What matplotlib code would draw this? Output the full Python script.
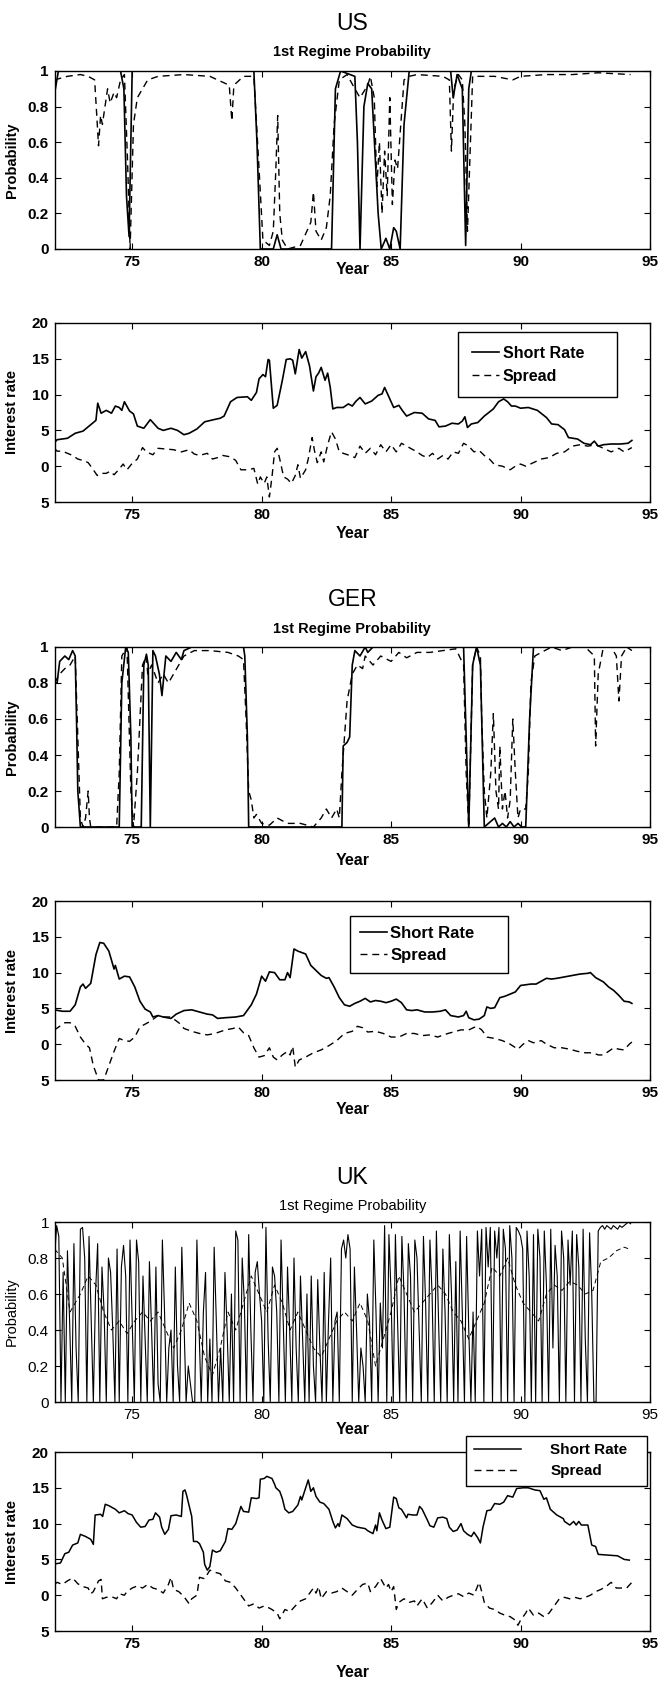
import matplotlib
matplotlib.use('Agg')
import matplotlib.pyplot as plt
import numpy as np

plt.rcParams['font.family'] = ['Liberation Sans', 'DejaVu Sans']

# ---------------- US ----------------
us_prob_solid_t = [72.0, 72.15, 72.3, 74.55, 74.68, 74.78, 74.88, 75.0, 79.7, 79.82, 79.95, 80.45, 80.6, 80.75,
                   82.7, 82.85, 83.05, 83.6, 83.7, 83.8, 83.95, 84.1, 84.25, 84.5, 84.62, 84.8, 84.95, 85.1,
                   85.2, 85.35, 85.5, 85.7, 87.3, 87.4, 87.55, 87.75, 87.88, 88.0, 88.1, 94.25]
us_prob_solid = [0.87, 1.0, 1.0, 1.0, 0.9, 0.3, 0.07, 1.0, 1.0, 0.6, 0.0, 0.0, 0.08, 0.0,
                 0.0, 0.9, 1.0, 0.97, 0.6, 0.0, 0.8, 0.93, 0.9, 0.2, 0.0, 0.06, 0.0, 0.12,
                 0.1, 0.0, 0.7, 1.0, 1.0, 0.85, 0.98, 0.9, 0.02, 0.9, 1.0, 1.0]
us_prob_dash_t = [72.0, 72.5, 73.0, 73.3, 73.55, 73.62, 73.7, 73.78, 73.85, 73.95, 74.05, 74.15, 74.3, 74.4,
                  74.55, 74.7, 74.82, 74.92, 75.05, 75.2, 75.4, 75.6, 76.0, 77.0, 78.0, 78.75, 78.85, 78.92,
                  79.0, 79.3, 79.7, 79.9, 80.05, 80.3, 80.45, 80.55, 80.62, 80.7, 80.8, 81.0, 81.5, 81.9,
                  82.0, 82.1, 82.3, 82.5, 82.65, 82.8, 83.0, 83.3, 83.6, 83.8, 84.1, 84.2, 84.35, 84.45,
                  84.55, 84.65, 84.75, 84.85, 84.95, 85.05, 85.15, 85.25, 85.5, 85.7, 86.0, 87.0, 87.25,
                  87.33, 87.42, 87.6, 87.75, 87.85, 87.95, 88.15, 89.0, 89.7, 90.0, 91.0, 92.0, 93.0, 94.25]
us_prob_dash = [0.95, 0.97, 0.98, 0.97, 0.95, 0.78, 0.58, 0.75, 0.7, 0.8, 0.9, 0.82, 0.88, 0.85,
                0.95, 0.98, 0.5, 0.0, 0.7, 0.85, 0.9, 0.95, 0.97, 0.98, 0.97, 0.92, 0.72, 0.9,
                0.93, 0.97, 0.97, 0.45, 0.05, 0.02, 0.1, 0.45, 0.75, 0.2, 0.05, 0.0, 0.02, 0.15,
                0.32, 0.1, 0.05, 0.12, 0.3, 0.7, 0.95, 0.98, 0.9, 0.85, 0.92, 0.97, 0.85, 0.35,
                0.6, 0.2, 0.55, 0.3, 0.85, 0.25, 0.5, 0.45, 0.95, 0.97, 0.98, 0.97, 0.95,
                0.55, 0.9, 0.98, 0.95, 0.7, 0.1, 0.97, 0.97, 0.95, 0.97, 0.98, 0.98, 0.99, 0.98]

us_rate_t = [72.0, 72.1, 72.5, 72.8, 73.1, 73.4, 73.6, 73.67, 73.8, 74.0, 74.2, 74.35, 74.5, 74.6, 74.7,
             74.9, 75.05, 75.2, 75.45, 75.7, 76.0, 76.2, 76.5, 76.75, 77.0, 77.2, 77.5, 77.8, 78.15,
             78.4, 78.55, 78.8, 79.05, 79.45, 79.6, 79.8, 79.9, 80.05, 80.15, 80.25, 80.3, 80.45, 80.6,
             80.8, 80.95, 81.1, 81.2, 81.3, 81.45, 81.55, 81.7, 81.85, 82.0, 82.1, 82.2, 82.3, 82.45,
             82.55, 82.65, 82.75, 82.9, 83.15, 83.35, 83.5, 83.65, 83.8, 84.0, 84.25, 84.5, 84.65,
             84.75, 84.9, 85.1, 85.3, 85.45, 85.6, 85.9, 86.2, 86.45, 86.7, 86.85, 87.1, 87.35, 87.6,
             87.75, 87.85, 87.95, 88.1, 88.35, 88.6, 88.95, 89.15, 89.35, 89.5, 89.65, 89.8, 90.0,
             90.3, 90.65, 91.0, 91.2, 91.45, 91.7, 91.85, 92.2, 92.45, 92.7, 92.85, 93.0, 93.2, 93.5,
             93.85, 94.15, 94.3]
us_rate = [3.3, 3.7, 3.9, 4.6, 4.9, 5.8, 6.4, 8.8, 7.4, 7.8, 7.4, 8.4, 8.2, 7.8, 9.0,
           7.7, 7.3, 5.6, 5.3, 6.5, 5.3, 5.0, 5.3, 5.0, 4.4, 4.6, 5.2, 6.2, 6.5,
           6.7, 7.0, 9.0, 9.6, 9.7, 9.2, 10.3, 12.2, 12.8, 12.5, 14.9, 14.8, 8.1, 8.5,
           12.0, 14.9, 15.0, 14.8, 12.9, 16.3, 15.1, 16.0, 14.0, 10.5, 12.5, 13.0, 13.8, 12.0,
           13.0, 11.0, 8.0, 8.2, 8.2, 8.7, 8.4, 9.1, 9.6, 8.7, 9.1, 9.9, 10.1,
           11.0, 9.8, 8.2, 8.5, 7.7, 7.0, 7.5, 7.4, 6.6, 6.4, 5.5, 5.6, 6.0, 5.9,
           6.3, 6.9, 5.4, 5.9, 6.1, 7.0, 8.0, 9.0, 9.4, 9.0, 8.4, 8.4, 8.1,
           8.2, 7.8, 6.8, 5.9, 5.8, 5.1, 4.0, 3.8, 3.2, 3.0, 3.5, 2.8, 3.0, 3.1,
           3.1, 3.2, 3.6]
us_spread_t = [72.0, 72.1, 72.3, 72.5, 72.7, 72.9, 73.1, 73.3, 73.5, 73.65, 73.8, 74.0, 74.15, 74.3, 74.5,
               74.65, 74.8, 75.0, 75.2, 75.4, 75.55, 75.8, 76.0, 76.3, 76.6, 76.9, 77.2, 77.4, 77.6, 77.9,
               78.1, 78.3, 78.5, 78.8, 79.0, 79.2, 79.5, 79.7, 79.85, 79.95, 80.1, 80.2, 80.3, 80.4, 80.5,
               80.6, 80.7, 80.85, 81.0, 81.15, 81.3, 81.4, 81.5, 81.7, 81.8, 81.95, 82.05, 82.15, 82.3,
               82.4, 82.55, 82.7, 82.85, 83.0, 83.15, 83.4, 83.6, 83.8, 84.0, 84.2, 84.4, 84.6, 84.8,
               85.0, 85.2, 85.4, 85.6, 85.8, 86.0, 86.2, 86.4, 86.6, 86.8, 87.0, 87.2, 87.4, 87.6, 87.8,
               88.0, 88.2, 88.4, 88.6, 88.8, 89.0, 89.3, 89.6, 89.8, 90.0, 90.2, 90.5, 90.8, 91.1, 91.4,
               91.7, 92.0, 92.3, 92.6, 92.9, 93.2, 93.5, 93.8, 94.0, 94.3]
us_spread = [2.5, 2.1, 2.1, 1.8, 1.5, 1.0, 0.8, 0.5, -0.5, -1.3, -1.0, -1.0, -0.7, -1.2, -0.4,
             0.3, -0.5, 0.4, 1.0, 2.6, 2.0, 1.6, 2.5, 2.4, 2.3, 2.0, 2.3, 1.7, 1.5, 1.8,
             1.0, 1.2, 1.5, 1.3, 0.8, -0.5, -0.5, -0.3, -2.5, -1.5, -2.4, -1.5, -4.3, -1.5, 2.0,
             2.5, 1.0, -1.5, -1.8, -2.4, -1.3, 0.2, -1.7, -0.5, 1.0, 4.0, 2.0, 0.5, 2.0,
             0.6, 3.0, 4.8, 3.8, 2.0, 1.8, 1.5, 1.2, 2.8, 1.8, 2.5, 1.6, 3.0, 2.0,
             3.0, 2.0, 3.2, 2.8, 2.4, 2.0, 1.5, 1.2, 1.8, 1.0, 1.5, 1.0, 2.0, 1.8, 3.2,
             2.8, 2.0, 2.2, 1.5, 1.0, 0.2, 0.0, -0.5, 0.0, 0.3, 0.0, 0.5, 1.0, 1.2, 1.8,
             2.0, 2.8, 3.0, 2.8, 3.0, 2.5, 2.0, 2.5, 2.0, 2.6]

# ---------------- GER ----------------
ger_prob_solid_t = [72.0, 72.1, 72.2, 72.4, 72.55, 72.7, 72.8, 72.85, 72.9, 73.0, 74.5, 74.6, 74.75, 74.85,
                    74.95, 75.0, 75.35, 75.45, 75.55, 75.62, 75.7, 75.8, 75.9, 76.05, 76.15, 76.3, 76.5, 76.7,
                    76.9, 77.0, 77.3, 79.3, 79.35, 79.45, 79.5, 83.1, 83.15, 83.3, 83.4, 83.5, 83.6, 83.8, 84.0,
                    84.1, 84.3, 87.8, 87.9, 88.0, 88.15, 88.3, 88.45, 88.6, 89.0, 89.15, 89.3, 89.45, 89.6,
                    89.75, 89.9, 90.05, 90.2, 90.35, 90.5, 94.3]
ger_prob_solid = [0.8, 0.8, 0.92, 0.95, 0.93, 0.98, 0.95, 0.6, 0.2, 0.0, 0.0, 0.8, 1.0, 0.97,
                  0.5, 0.0, 0.0, 0.9, 0.96, 0.9, 0.0, 0.98, 0.95, 0.85, 0.73, 0.95, 0.92, 0.97,
                  0.93, 0.98, 1.0, 1.0, 0.95, 0.5, 0.0, 0.0, 0.45, 0.47, 0.5, 0.9, 0.98, 0.95, 1.0,
                  0.97, 1.0, 1.0, 0.5, 0.0, 0.9, 1.0, 0.9, 0.0, 0.05, 0.0, 0.02, 0.0, 0.03,
                  0.0, 0.02, 0.0, 0.0, 0.6, 1.0, 1.0]
ger_prob_dash_t = [72.0, 72.2, 72.4, 72.6, 72.8, 72.9, 73.0, 73.1, 73.2, 73.3, 73.35, 73.4, 74.4, 74.5, 74.6,
                   74.8, 74.95, 75.05, 75.2, 75.3, 75.4, 75.55, 75.6, 75.75, 76.0, 76.2, 76.4, 76.6, 76.8,
                   77.0, 77.4, 78.0, 78.7, 79.1, 79.3, 79.4, 79.5, 79.6, 79.7, 79.8, 80.0, 80.3, 80.6, 81.0,
                   81.5, 82.0, 82.3, 82.5, 82.7, 82.9, 83.0, 83.1, 83.3, 83.5, 83.7, 83.9, 84.0, 84.3, 84.6,
                   85.0, 85.3, 85.6, 86.0, 86.5, 87.0, 87.5, 87.8, 87.9, 88.0, 88.15, 88.3, 88.45, 88.5,
                   88.6, 88.7, 88.85, 88.95, 89.05, 89.15, 89.2, 89.3, 89.4, 89.5, 89.6, 89.7, 89.8, 89.9,
                   90.0, 90.2, 90.3, 90.4, 90.55, 90.8, 91.2, 91.6, 92.0, 92.5, 92.85, 92.9, 93.0, 93.2,
                   93.5, 93.7, 93.8, 93.9, 94.1, 94.3]
ger_prob_dash = [0.8, 0.85, 0.88, 0.9, 0.95, 0.5, 0.05, 0.0, 0.05, 0.2, 0.05, 0.0, 0.0, 0.3, 0.95,
                 1.0, 0.2, 0.0, 0.3, 0.6, 0.9, 0.95, 0.85, 0.9, 0.8, 0.85, 0.8, 0.85, 0.9,
                 0.95, 0.98, 0.98, 0.97, 0.95, 0.93, 0.6, 0.2, 0.15, 0.05, 0.07, 0.02, 0.01, 0.05, 0.02,
                 0.02, 0.0, 0.05, 0.1, 0.05, 0.1, 0.05, 0.3, 0.7, 0.85, 0.9, 0.88, 0.95, 0.9, 0.95,
                 0.92, 0.97, 0.94, 0.97, 0.97, 0.98, 0.99, 0.9, 0.3, 0.0, 0.9, 1.0, 0.95, 0.6,
                 0.2, 0.05, 0.3, 0.63, 0.2, 0.1, 0.45, 0.1, 0.2, 0.05, 0.15, 0.6, 0.3, 0.05,
                 0.1, 0.1, 0.3, 0.8, 0.95, 0.97, 1.0, 0.98, 1.0, 1.0, 0.95, 0.45, 0.85, 1.0,
                 1.0, 0.95, 0.7, 0.95, 1.0, 0.98]

ger_rate_t = [72.0, 72.3, 72.6, 72.8, 73.0, 73.1, 73.2, 73.4, 73.6, 73.75, 73.9, 74.1, 74.3, 74.35, 74.5,
              74.7, 74.9, 75.1, 75.3, 75.5, 75.7, 75.8, 76.0, 76.2, 76.5, 76.7, 77.0, 77.3, 77.6, 77.9,
              78.1, 78.3, 78.6, 79.0, 79.3, 79.6, 79.8, 80.0, 80.15, 80.3, 80.5, 80.7, 80.9, 81.0, 81.1,
              81.25, 81.4, 81.7, 81.9, 82.1, 82.3, 82.5, 82.6, 82.8, 83.0, 83.2, 83.4, 83.6, 83.8, 84.0,
              84.2, 84.4, 84.6, 84.8, 85.0, 85.2, 85.4, 85.6, 85.8, 86.0, 86.3, 86.6, 86.9, 87.1, 87.3,
              87.6, 87.8, 87.9, 88.0, 88.2, 88.4, 88.6, 88.7, 88.85, 89.0, 89.2, 89.4, 89.6, 89.8, 90.0,
              90.2, 90.4, 90.6, 90.8, 91.0, 91.2, 91.4, 91.7, 92.0, 92.3, 92.6, 92.7, 92.9, 93.2, 93.4,
              93.6, 93.8, 94.0, 94.2, 94.3]
ger_rate = [4.8, 4.6, 4.6, 5.5, 8.0, 8.4, 7.8, 8.5, 12.5, 14.2, 14.1, 13.0, 10.5, 11.0, 9.1,
            9.5, 9.4, 8.0, 6.0, 4.9, 4.5, 3.8, 4.0, 3.8, 3.6, 4.2, 4.7, 4.8, 4.5, 4.2,
            4.1, 3.6, 3.7, 3.8, 4.0, 5.5, 7.0, 9.5, 8.8, 10.1, 10.0, 9.0, 9.0, 10.0, 9.3,
            13.3, 13.0, 12.6, 11.0, 10.3, 9.6, 9.2, 9.3, 8.0, 6.5, 5.5, 5.3, 5.7, 6.0, 6.4,
            5.9, 6.1, 6.0, 5.8, 6.0, 6.3, 5.8, 4.8, 4.7, 4.8, 4.5, 4.5, 4.6, 4.8, 4.0,
            3.8, 4.0, 4.6, 3.7, 3.4, 3.5, 4.0, 5.2, 5.0, 5.1, 6.5, 6.7, 7.0, 7.3, 8.2,
            8.3, 8.4, 8.4, 8.8, 9.2, 9.1, 9.2, 9.4, 9.6, 9.8, 9.9, 10.0, 9.3, 8.7, 8.0,
            7.5, 6.8, 6.0, 5.9, 5.7]
ger_spread_t = [72.0, 72.2, 72.4, 72.6, 72.8, 73.0, 73.2, 73.35, 73.5, 73.7, 73.9, 74.1, 74.3, 74.5, 74.7,
                74.9, 75.1, 75.3, 75.5, 75.7, 76.0, 76.2, 76.5, 76.8, 77.0, 77.3, 77.6, 77.9, 78.2, 78.6,
                78.9, 79.1, 79.3, 79.5, 79.7, 79.9, 80.1, 80.3, 80.45, 80.6, 80.8, 81.0, 81.1, 81.2, 81.3,
                81.45, 81.7, 82.0, 82.3, 82.6, 82.9, 83.2, 83.5, 83.7, 83.9, 84.1, 84.4, 84.7, 85.0, 85.3,
                85.6, 85.9, 86.2, 86.5, 86.8, 87.1, 87.4, 87.7, 88.0, 88.3, 88.5, 88.7, 89.0, 89.3, 89.6,
                89.9, 90.1, 90.3, 90.5, 90.8, 91.0, 91.3, 91.6, 91.9, 92.2, 92.5, 92.8, 93.0, 93.2, 93.4,
                93.6, 93.8, 94.0, 94.2, 94.3]
ger_spread = [2.0, 2.5, 3.0, 3.0, 2.5, 1.0, 0.0, -0.5, -3.0, -5.0, -5.0, -3.0, -1.0, 0.8, 0.5,
              0.4, 1.0, 2.4, 2.8, 3.2, 4.0, 3.8, 3.8, 3.0, 2.2, 1.8, 1.5, 1.3, 1.5, 2.0,
              2.2, 2.4, 1.6, 1.2, -0.5, -1.8, -1.6, -0.5, -1.8, -2.2, -1.5, -1.0, -1.5, -0.3, -3.2,
              -2.2, -1.8, -1.2, -0.8, -0.2, 0.5, 1.5, 1.8, 2.5, 2.3, 1.7, 1.8, 1.5, 1.0, 1.0,
              1.5, 1.5, 1.2, 1.3, 1.0, 1.4, 1.7, 2.0, 2.0, 2.5, 2.0, 1.0, 0.8, 0.5, 0.0,
              -0.7, 0.0, 0.5, 0.2, 0.5, 0.0, -0.5, -0.5, -0.7, -1.0, -1.2, -1.2, -1.5, -1.5, -1.0,
              -0.5, -0.7, -0.8, 0.0, 0.3]

# ---------------- UK ----------------
# monthly, Jan 1972 onwards
uk_prob_solid = [
    0.80, 0.98, 0.92, 0.00, 0.72, 0.00, 0.84, 0.45, 0.00, 0.88, 0.30, 0.00,
    0.96, 0.97, 0.80, 0.00, 0.92, 0.45, 0.00, 0.60, 0.88, 0.00, 0.75, 0.50,
    0.00, 0.80, 0.72, 0.40, 0.00, 0.85, 0.00, 0.75, 0.87, 0.70, 0.00, 0.90,
    0.45, 0.00, 0.90, 0.78, 0.00, 0.70, 0.35, 0.00, 0.78, 0.40, 0.00, 0.75,
    0.10, 0.00, 0.90, 0.50, 0.00, 0.30, 0.40, 0.00, 0.75, 0.20, 0.00, 0.86,
    0.45, 0.00, 0.20, 0.10, 0.00, 0.00, 0.90, 0.40, 0.00, 0.50, 0.72, 0.00,
    0.35, 0.00, 0.86, 0.45, 0.00, 0.30, 0.00, 0.72, 0.40, 0.00, 0.60, 0.00,
    0.95, 0.90, 0.00, 0.80, 0.55, 0.00, 0.93, 0.40, 0.00, 0.72, 0.78, 0.60,
    0.45, 0.00, 0.97, 0.35, 0.00, 0.75, 0.70, 0.50, 0.00, 0.90, 0.45, 0.00,
    0.75, 0.40, 0.00, 0.80, 0.30, 0.00, 0.70, 0.35, 0.00, 0.60, 0.00, 0.70,
    0.20, 0.00, 0.68, 0.30, 0.00, 0.72, 0.00, 0.45, 0.80, 0.00, 0.45, 0.50,
    0.00, 0.85, 0.90, 0.80, 0.93, 0.85, 0.00, 0.75, 0.40, 0.00, 0.30, 0.20,
    0.00, 0.60, 0.45, 0.00, 0.90, 0.50, 0.00, 0.55, 0.30, 0.98, 0.00, 0.93,
    0.60, 0.00, 0.93, 0.45, 0.00, 0.92, 0.60, 0.00, 0.88, 0.70, 0.00, 0.90,
    0.80, 0.40, 0.00, 0.92, 0.55, 0.00, 0.90, 0.60, 0.00, 0.95, 0.45, 0.00,
    0.85, 0.50, 0.00, 0.93, 0.60, 0.00, 0.78, 0.00, 0.95, 0.50, 0.00, 0.92,
    0.40, 0.00, 0.50, 0.00, 0.95, 0.70, 0.96, 0.00, 0.97, 0.75, 0.97, 0.00,
    0.95, 0.80, 0.97, 0.00, 0.96, 0.85, 0.00, 0.98, 0.80, 0.00, 0.97, 0.95,
    0.92, 0.85, 0.00, 0.95, 0.70, 0.00, 0.93, 0.00, 0.96, 0.80, 0.00, 0.95,
    0.65, 0.00, 0.96, 0.30, 0.87, 0.70, 0.00, 0.95, 0.80, 0.00, 0.90, 0.65,
    0.95, 0.00, 0.93, 0.75, 0.00, 0.96, 0.35, 0.00, 0.94, 0.60, 0.00, 0.00,
    0.95, 0.97, 0.98, 0.96, 0.98, 0.97, 0.96, 0.98, 0.97, 0.96, 0.98, 0.97,
    0.98, 0.99, 1.00, 0.99]
uk_prob_t = 72 + np.arange(len(uk_prob_solid)) / 12

uk_prob_dash_t = [72.0, 72.3, 72.6, 73.0, 73.3, 73.6, 73.9, 74.2, 74.5, 74.8, 75.1, 75.4, 75.7, 76.0, 76.3,
                  76.6, 76.9, 77.2, 77.5, 77.8, 78.1, 78.4, 78.7, 79.0, 79.3, 79.6, 79.9, 80.2, 80.5, 80.8,
                  81.1, 81.4, 81.7, 82.0, 82.3, 82.6, 82.9, 83.2, 83.5, 83.8, 84.1, 84.4, 84.7, 85.0, 85.3,
                  85.6, 85.9, 86.2, 86.5, 86.8, 87.1, 87.4, 87.7, 88.0, 88.3, 88.6, 88.9, 89.2, 89.5, 89.8,
                  90.1, 90.4, 90.7, 91.0, 91.3, 91.6, 91.9, 92.2, 92.5, 92.8, 93.1, 93.4, 93.7, 94.0, 94.2]
uk_prob_dash = [0.85, 0.8, 0.5, 0.6, 0.7, 0.65, 0.5, 0.4, 0.45, 0.38, 0.45, 0.5, 0.45, 0.5, 0.4,
                0.3, 0.4, 0.55, 0.45, 0.25, 0.15, 0.3, 0.5, 0.4, 0.55, 0.7, 0.6, 0.5, 0.65, 0.55,
                0.4, 0.5, 0.4, 0.3, 0.25, 0.35, 0.45, 0.5, 0.45, 0.55, 0.45, 0.2, 0.35, 0.5, 0.7,
                0.6, 0.5, 0.55, 0.6, 0.65, 0.6, 0.5, 0.45, 0.35, 0.45, 0.55, 0.75, 0.7, 0.8, 0.65,
                0.55, 0.5, 0.45, 0.6, 0.65, 0.62, 0.67, 0.65, 0.6, 0.62, 0.78, 0.8, 0.84, 0.86, 0.85]

uk_rate_t = [72.0, 72.07, 72.23, 72.4, 72.55, 72.7, 72.9, 73.0, 73.2, 73.4,
             73.5, 73.57, 73.78, 73.86, 73.96, 74.1, 74.35, 74.5, 74.7, 74.84,
             75.0, 75.16, 75.33, 75.5, 75.65, 75.8, 75.9, 76.06, 76.14, 76.26,
             76.4, 76.5, 76.7, 76.9, 76.96, 77.04, 77.1, 77.3, 77.37, 77.5,
             77.6, 77.75, 77.8, 77.9, 78.0, 78.1, 78.25, 78.4, 78.6, 78.7,
             78.85, 79.0, 79.1, 79.2, 79.3, 79.5, 79.6, 79.8, 79.9, 79.95,
             80.1, 80.2, 80.4, 80.5, 80.55, 80.7, 80.8, 80.9, 81.05, 81.2,
             81.4, 81.5, 81.55, 81.8, 81.9, 82.0, 82.1, 82.25, 82.4, 82.6,
             82.75, 82.85, 82.95, 83.0, 83.1, 83.3, 83.5, 83.7, 84.0, 84.1,
             84.3, 84.4, 84.45, 84.55, 84.65, 84.8, 84.95, 85.1, 85.2, 85.3,
             85.4, 85.6, 85.65, 85.85, 86.0, 86.1, 86.2, 86.4, 86.5, 86.65,
             86.8, 87.0, 87.15, 87.25, 87.4, 87.55, 87.7, 87.8, 87.95, 88.1,
             88.2, 88.35, 88.45, 88.55, 88.7, 88.85, 89.0, 89.2, 89.35, 89.5,
             89.7, 89.85, 90.1, 90.3, 90.55, 90.75, 90.9, 91.0, 91.15, 91.4,
             91.65, 91.7, 91.9, 92.05, 92.15, 92.25, 92.35, 92.6, 92.75, 92.9,
             93.0, 93.35, 93.75, 94.0, 94.2]
uk_rate = [4.4, 4.4, 4.5, 5.8, 6.0, 7.0, 7.3, 8.5, 8.2, 7.8,
           7.1, 11.2, 11.3, 11.0, 12.7, 12.5, 12.0, 11.5, 11.8, 11.4,
           11.2, 10.2, 9.5, 9.6, 10.5, 10.6, 11.5, 10.9, 9.5, 8.5,
           9.2, 11.1, 11.2, 11.0, 14.5, 14.7, 14.0, 11.0, 7.5, 7.5,
           7.2, 6.0, 4.3, 3.5, 4.0, 6.3, 6.0, 6.2, 7.5, 9.3,
           9.2, 10.0, 11.2, 12.4, 11.7, 11.6, 13.6, 13.5, 13.6, 16.2,
           16.3, 16.6, 16.3, 15.5, 15.0, 14.5, 13.5, 12.0, 11.5, 11.7,
           12.6, 13.8, 13.3, 16.1, 14.5, 15.0, 13.8, 13.0, 12.8, 12.0,
           10.3, 9.4, 10.0, 9.6, 11.2, 10.7, 9.8, 9.5, 9.3, 9.0,
           8.6, 9.8, 9.0, 11.5, 10.5, 9.3, 9.5, 13.7, 13.5, 12.2,
           12.0, 10.8, 11.3, 11.2, 11.2, 12.4, 12.0, 10.5, 9.7, 9.5,
           10.8, 10.9, 10.7, 9.5, 8.9, 9.1, 10.0, 9.0, 8.5, 8.2,
           8.8, 8.0, 7.3, 9.5, 11.8, 11.9, 12.8, 12.7, 13.0, 13.9,
           13.7, 14.9, 15.0, 15.0, 14.7, 14.6, 13.4, 13.6, 12.0, 11.2,
           10.7, 10.3, 9.8, 10.3, 9.8, 10.3, 9.8, 9.8, 7.0, 6.8,
           5.7, 5.6, 5.5, 5.0, 4.9]
uk_spread_t = [72.0, 72.1, 72.3, 72.5, 72.7, 72.9, 73.1, 73.3, 73.4, 73.5, 73.7, 73.8, 73.85, 74.0, 74.2,
               74.4, 74.5, 74.7, 74.8, 75.0, 75.2, 75.4, 75.6, 75.8, 76.0, 76.2, 76.4, 76.5, 76.6, 76.8,
               77.0, 77.2, 77.3, 77.5, 77.6, 77.8, 78.0, 78.2, 78.4, 78.6, 78.8, 79.0, 79.1, 79.3, 79.5,
               79.7, 79.9, 80.1, 80.3, 80.4, 80.6, 80.7, 80.9, 81.1, 81.3, 81.5, 81.7, 81.9, 82.0, 82.1,
               82.2, 82.3, 82.5, 82.7, 82.9, 83.1, 83.3, 83.5, 83.7, 83.9, 84.1, 84.2, 84.4, 84.6, 84.8,
               84.9, 85.0, 85.1, 85.2, 85.3, 85.5, 85.7, 85.9, 86.0, 86.2, 86.4, 86.6, 86.8, 87.0, 87.2,
               87.4, 87.6, 87.8, 88.0, 88.2, 88.4, 88.5, 88.6, 88.8, 89.0, 89.2, 89.4, 89.6, 89.8, 89.9,
               90.0, 90.2, 90.3, 90.5, 90.7, 90.9, 91.1, 91.3, 91.5, 91.7, 91.9, 92.1, 92.3, 92.5, 92.7,
               92.9, 93.1, 93.3, 93.5, 93.7, 93.9, 94.1, 94.3]
uk_spread = [1.5, 1.8, 1.5, 2.0, 2.4, 1.6, 1.2, 1.0, 0.2, 0.5, 2.0, 2.2, -0.5, -0.3, -0.2,
             -0.5, 0.2, 0.0, 0.5, 1.0, 1.3, 1.0, 1.5, 1.0, 0.8, 0.3, 1.5, 2.5, 0.8, 0.5,
             -0.2, -1.2, -0.5, 0.0, 2.5, 2.3, 3.5, 3.2, 3.0, 2.0, 1.8, 1.0, 0.5, -0.5, -1.5,
             -1.2, -1.8, -1.5, -1.8, -2.0, -2.5, -3.3, -2.0, -2.3, -1.5, -0.8, -0.5, 0.5, 1.0, 0.3,
             1.2, -0.5, 0.5, 0.3, 0.5, 1.0, 0.5, 0.0, 0.8, 1.5, 1.7, 0.5, 1.2, 2.3, 1.0,
             1.5, 0.5, 1.2, -2.0, -1.0, -0.5, -1.0, -0.8, -1.5, -0.5, -1.8, -1.0, 0.0, -0.8, -0.3,
             0.0, 0.2, -0.2, 0.3, 0.0, 1.8, 0.5, -1.0, -1.8, -2.0, -2.5, -2.8, -3.0, -3.5, -4.2,
             -3.5, -2.5, -1.8, -2.8, -2.5, -3.0, -2.5, -1.5, -0.5, -0.3, -0.5, -0.3, -0.5, -0.3, 0.0,
             0.5, 0.8, 1.2, 1.8, 1.0, 1.0, 1.0, 1.8]

W, H = 661, 1685
fig = plt.figure(figsize=(W / 100, H / 100), dpi=100)

# axes boxes in pixels: (top, bottom)
LEFT, RIGHT = 54.5, 650
boxes = [(71, 249), (323, 502), (647, 827), (901, 1080), (1222, 1402), (1452, 1631)]


def make_ax(top, bottom):
    return fig.add_axes([LEFT / W, 1 - bottom / H, (RIGHT - LEFT) / W, (bottom - top) / H])


def style_ax(ax, kind, bold=True):
    w = 'bold' if bold else 'normal'
    ax.set_xlim(72, 95)
    ax.set_xticks([75, 80, 85, 90, 95])
    ax.set_xticklabels(['75', '80', '85', '90', '95'], fontsize=11, fontweight=w)
    if kind == 'prob':
        ax.set_ylim(0, 1)
        ax.set_yticks([0, 0.2, 0.4, 0.6, 0.8, 1])
        ax.set_yticklabels(['0', '0.2', '0.4', '0.6', '0.8', '1'], fontsize=11, fontweight=w)
        ax.set_ylabel('Probability', fontsize=10.5, fontweight=w)
    else:
        ax.set_ylim(-5, 20)
        ax.set_yticks([-5, 0, 5, 10, 15, 20])
        ax.set_yticklabels(['5', '0', '5', '10', '15', '20'], fontsize=11, fontweight=w)
        ax.set_ylabel('Interest rate', fontsize=10.5, fontweight=w)
    ax.yaxis.set_label_coords(-0.06, 0.5)
    ax.tick_params(direction='in', top=True, right=True, length=4, width=0.8, pad=4)
    for s in ax.spines.values():
        s.set_linewidth(1.0)


def ftext(x, y, s, size, weight='bold'):
    fig.text(x / W, 1 - y / H, s, ha='center', va='center', fontsize=size, fontweight=weight)


def add_legend(ax, x0, top, width, size, hl, htp, bp, ls):
    leg = ax.legend(loc='upper left', bbox_to_anchor=(x0, top - 0.5, width, 0.5), mode='expand',
                    borderaxespad=0, prop={'weight': 'bold', 'size': size},
                    frameon=True, fancybox=False, edgecolor='black', handlelength=hl,
                    handletextpad=htp, borderpad=bp, labelspacing=ls)
    leg.get_frame().set_linewidth(1.0)
    leg.get_frame().set_alpha(1)


cx = (LEFT + RIGHT) / 2
dash = (5, 3.5)

# US probability
ax = make_ax(*boxes[0])
ax.plot(us_prob_solid_t, us_prob_solid, color='black', lw=1.2)
ax.plot(us_prob_dash_t, us_prob_dash, color='black', lw=1.0, dashes=dash)
style_ax(ax, 'prob')
ftext(cx, 24, 'US', 16.5, 'normal')
ftext(cx, 52, '1st Regime Probability', 10.5)
ftext(cx, 270, 'Year', 11.5)

# US interest
ax = make_ax(*boxes[1])
ax.plot(us_rate_t, us_rate, color='black', lw=1.2, label='Short Rate')
ax.plot(us_spread_t, us_spread, color='black', lw=1.0, dashes=dash, label='Spread')
style_ax(ax, 'rate')
add_legend(ax, 0.678, 0.95, 0.267, 11.5, 1.7, 0.25, 0.85, 0.5)
ftext(cx, 534, 'Year', 11.5)

# GER probability
ax = make_ax(*boxes[2])
ax.plot(ger_prob_solid_t, ger_prob_solid, color='black', lw=1.2)
ax.plot(ger_prob_dash_t, ger_prob_dash, color='black', lw=1.0, dashes=dash)
style_ax(ax, 'prob')
ftext(cx, 599, 'GER', 16.5, 'normal')
ftext(cx, 629, '1st Regime Probability', 10.5)
ftext(cx, 860, 'Year', 11.5)

# GER interest
ax = make_ax(*boxes[3])
ax.plot(ger_rate_t, ger_rate, color='black', lw=1.2, label='Short Rate')
ax.plot(ger_spread_t, ger_spread, color='black', lw=1.0, dashes=dash, label='Spread')
style_ax(ax, 'rate')
add_legend(ax, 0.497, 0.917, 0.265, 12, 1.6, 0.2, 0.6, 0.42)
ftext(cx, 1109, 'Year', 11.5)

# UK probability
ax = make_ax(*boxes[4])
ax.plot(uk_prob_t, uk_prob_solid, color='black', lw=0.8)
ax.plot(uk_prob_dash_t, uk_prob_dash, color='black', lw=0.7, dashes=dash)
style_ax(ax, 'prob', bold=False)
ftext(cx, 1177, 'UK', 16.5, 'normal')
ftext(cx, 1206, '1st Regime Probability', 10.5, 'normal')
ftext(cx, 1429, 'Year', 11.5)

# UK interest
ax = make_ax(*boxes[5])
ax.plot(uk_rate_t, uk_rate, color='black', lw=1.1, label='Short Rate')
ax.plot(uk_spread_t, uk_spread, color='black', lw=1.0, dashes=dash, label='Spread')
style_ax(ax, 'rate')
add_legend(ax, 0.6915, 1.092, 0.303, 11, 3.1, 1.9, 0.5, 0.45)
ftext(cx, 1672, 'Year', 11.5)

fig.savefig('out.png', dpi=100)
